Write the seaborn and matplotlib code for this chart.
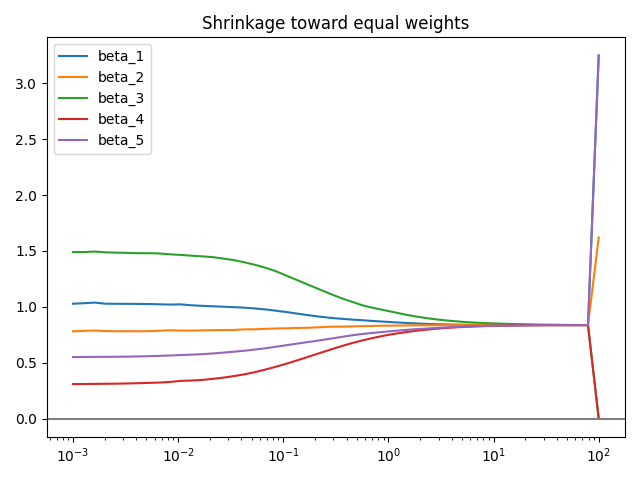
import numpy as np
import pandas as pd
import matplotlib
matplotlib.use("Agg")
import matplotlib.pyplot as plt
import seaborn as sns

# === Data ===
lambdas = np.logspace(-3, 2, 50)

beta_1 = [1.028, 1.032, 1.038, 1.028, 1.027, 1.027, 1.026, 1.025, 1.023, 1.020,
          1.022, 1.014, 1.009, 1.005, 1.001, 0.997, 0.992, 0.985, 0.976, 0.964,
          0.952, 0.938, 0.924, 0.912, 0.901, 0.893, 0.886, 0.880, 0.873, 0.867,
          0.861, 0.856, 0.851, 0.847, 0.844, 0.842, 0.840, 0.839, 0.838, 0.837,
          0.837, 0.837, 0.837, 0.837, 0.837, 0.837, 0.837, 0.837, 0.837, 3.25]

beta_2 = [0.780, 0.785, 0.788, 0.783, 0.781, 0.782, 0.781, 0.782, 0.786, 0.790,
          0.788, 0.787, 0.789, 0.791, 0.792, 0.793, 0.798, 0.799, 0.803, 0.806,
          0.808, 0.811, 0.813, 0.817, 0.822, 0.823, 0.825, 0.827, 0.829, 0.831,
          0.832, 0.833, 0.834, 0.835, 0.836, 0.836, 0.836, 0.836, 0.836, 0.836,
          0.836, 0.836, 0.836, 0.836, 0.836, 0.836, 0.836, 0.836, 0.836, 1.62]

beta_3 = [1.490, 1.490, 1.495, 1.488, 1.485, 1.483, 1.480, 1.480, 1.478, 1.470,
          1.465, 1.458, 1.452, 1.445, 1.432, 1.418, 1.398, 1.375, 1.348, 1.315,
          1.275, 1.235, 1.195, 1.155, 1.115, 1.078, 1.045, 1.013, 0.990, 0.970,
          0.950, 0.930, 0.913, 0.898, 0.886, 0.876, 0.868, 0.861, 0.856, 0.852,
          0.849, 0.846, 0.844, 0.842, 0.840, 0.839, 0.838, 0.837, 0.837, 0.0]

beta_4 = [0.308, 0.309, 0.310, 0.311, 0.312, 0.314, 0.316, 0.319, 0.322, 0.327,
          0.337, 0.340, 0.345, 0.355, 0.366, 0.380, 0.396, 0.416, 0.440, 0.466,
          0.494, 0.524, 0.555, 0.586, 0.617, 0.647, 0.675, 0.700, 0.722, 0.742,
          0.759, 0.773, 0.786, 0.796, 0.805, 0.812, 0.818, 0.823, 0.826, 0.829,
          0.831, 0.833, 0.834, 0.835, 0.836, 0.836, 0.836, 0.836, 0.836, 0.0]

beta_5 = [0.550, 0.551, 0.552, 0.552, 0.553, 0.554, 0.556, 0.558, 0.561, 0.564,
          0.568, 0.572, 0.576, 0.582, 0.590, 0.598, 0.607, 0.618, 0.630, 0.644,
          0.658, 0.672, 0.686, 0.700, 0.715, 0.730, 0.745, 0.757, 0.767, 0.776,
          0.785, 0.793, 0.800, 0.806, 0.812, 0.817, 0.821, 0.825, 0.828, 0.830,
          0.832, 0.833, 0.834, 0.835, 0.836, 0.836, 0.836, 0.836, 0.836, 3.25]

series = {
    "beta_1": beta_1,
    "beta_2": beta_2,
    "beta_3": beta_3,
    "beta_4": beta_4,
    "beta_5": beta_5,
}

# === Plot ===
fig, ax = plt.subplots(figsize=(6.4, 4.8), dpi=100)

for name, vals in series.items():
    sns.lineplot(x=lambdas, y=vals, label=name, ax=ax)

ax.axhline(0, color="gray")
ax.set_xscale("log")
ax.set_title("Shrinkage toward equal weights")
ax.legend(loc="upper left")

plt.tight_layout()
plt.savefig("out.png", dpi=100)
plt.close()
